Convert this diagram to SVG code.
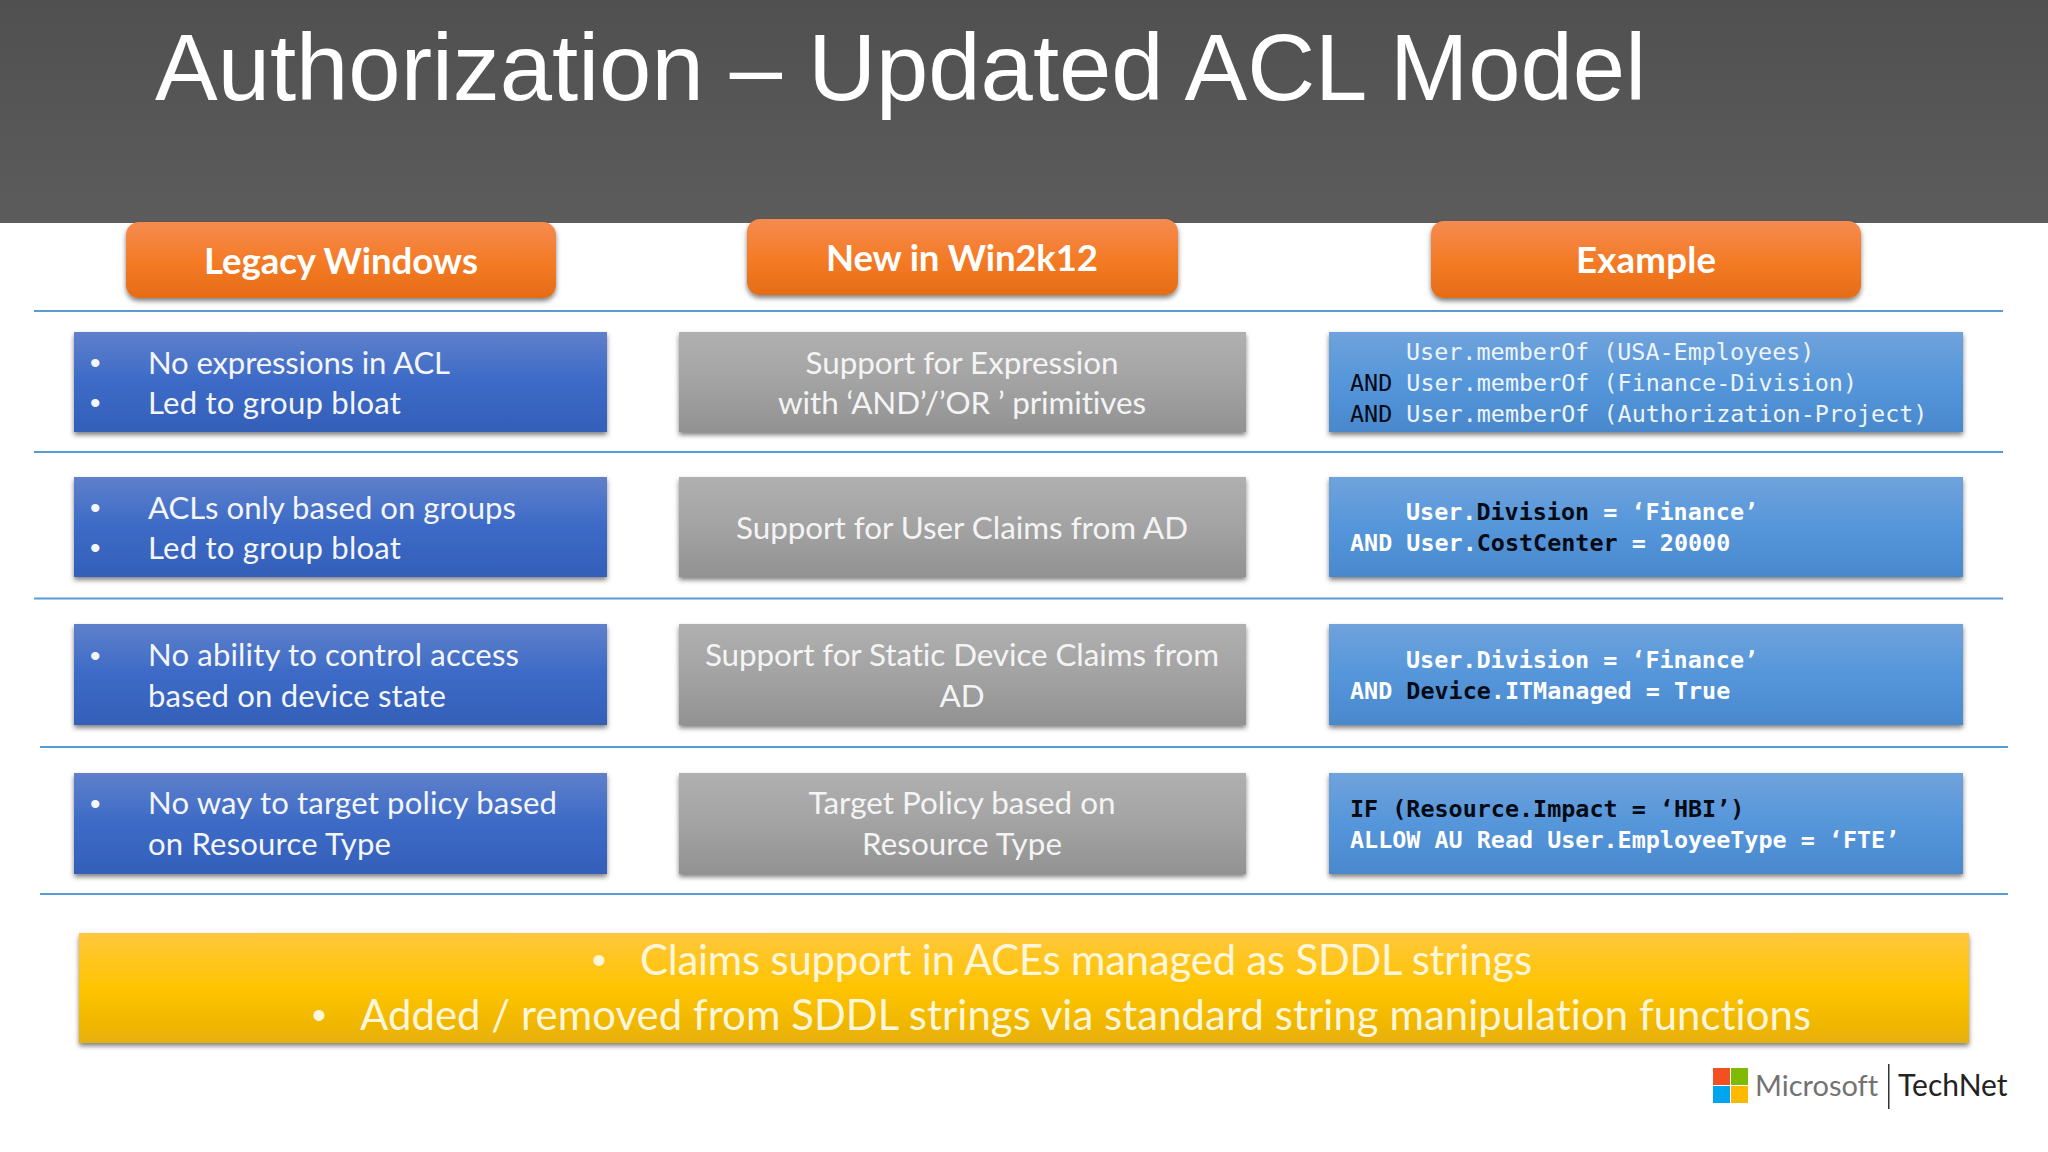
<svg xmlns="http://www.w3.org/2000/svg" width="2048" height="1152" viewBox="0 0 2048 1152">
<defs>
<linearGradient id="gHead" x1="0" y1="0" x2="0" y2="1"><stop offset="0" stop-color="#505050"/><stop offset="1" stop-color="#5c5c5c"/></linearGradient>
<linearGradient id="gOrange" x1="0" y1="0" x2="0" y2="1"><stop offset="0" stop-color="#f58b50"/><stop offset="0.55" stop-color="#f47a24"/><stop offset="1" stop-color="#e56c17"/></linearGradient>
<linearGradient id="gBlue" x1="0" y1="0" x2="0" y2="1"><stop offset="0" stop-color="#5f80cb"/><stop offset="0.5" stop-color="#3c6ac6"/><stop offset="1" stop-color="#345fb8"/></linearGradient>
<linearGradient id="gGray" x1="0" y1="0" x2="0" y2="1"><stop offset="0" stop-color="#b0b0b0"/><stop offset="0.5" stop-color="#a3a3a3"/><stop offset="1" stop-color="#929292"/></linearGradient>
<linearGradient id="gSky" x1="0" y1="0" x2="0" y2="1"><stop offset="0" stop-color="#6fa3dc"/><stop offset="0.5" stop-color="#5596da"/><stop offset="1" stop-color="#4a88cc"/></linearGradient>
<linearGradient id="gGold" x1="0" y1="0" x2="0" y2="1"><stop offset="0" stop-color="#ffc73d"/><stop offset="0.5" stop-color="#ffc400"/><stop offset="1" stop-color="#e8b008"/></linearGradient>
<filter id="sh" x="-5%" y="-10%" width="110%" height="125%"><feDropShadow dx="0" dy="3" stdDeviation="2.5" flood-color="#000" flood-opacity="0.5"/></filter>
</defs>
<style>
.orange{fill:url(#gOrange);filter:url(#sh)}
.blue{fill:url(#gBlue);filter:url(#sh)}
.gray{fill:url(#gGray);filter:url(#sh)}
.sky{fill:url(#gSky);filter:url(#sh)}
.gold{fill:url(#gGold);filter:url(#sh)}
text{font-family:Lato,"Open Sans",sans-serif;font-variant-ligatures:none}
.h{font-size:36.6px;font-weight:700;fill:#fff;text-anchor:middle}
.t{font-size:31.1px;fill:#f4f6fb}
.c{font-size:31.4px;fill:#f4f4f4;text-anchor:middle}
.p{font-family:"Liberation Sans",Arial,sans-serif;font-size:30px;fill:#f4f6fb}
.m{font-family:"DejaVu Sans Mono",monospace;font-size:23.4px;fill:#eef4fb;white-space:pre}
.b{font-weight:700;fill:#fff}
.k{fill:#050a14}
.kb{font-weight:700;fill:#050a14}
.y{font-size:41.8px;fill:#fff6dc}
.py{font-family:"Liberation Sans",Arial,sans-serif;font-size:40px;fill:#fff6dc}
.line{stroke:#5b9bd5;stroke-width:2.2;fill:none}
.ttl{font-family:"Liberation Sans",Arial,sans-serif;font-size:94px;fill:#fff}
</style>
<rect id="header-band" width="2048" height="223" fill="url(#gHead)"/>
<text id="title" class="ttl" x="155" y="100">Authorization – Updated ACL Model</text>
<g id="connectors">
<line class="line" x1="34" y1="311" x2="2003" y2="311"/>
<line class="line" x1="34" y1="452" x2="2003" y2="452"/>
<line class="line" x1="34" y1="598.500" x2="2003" y2="598.500"/>
<line class="line" x1="40" y1="747" x2="2008" y2="747"/>
<line class="line" x1="40" y1="894" x2="2008" y2="894"/>
</g>
<g id="head-legacy"><rect class="orange" x="126" y="222" width="430" height="76" rx="13"/><text class="h" x="341" y="274" textLength="274">Legacy Windows</text></g>
<g id="head-new"><rect class="orange" x="747" y="219" width="431" height="76" rx="13"/><text class="h" x="962" y="271" textLength="272">New in Win2k12</text></g>
<g id="head-example"><rect class="orange" x="1431" y="221" width="430" height="77" rx="13"/><text class="h" x="1646" y="273" textLength="140">Example</text></g>

<g id="legacy-1"><rect class="blue" x="74" y="332" width="533" height="100"/><text class="p" x="90" y="373">•</text><text class="t" x="148" y="374" textLength="302">No expressions in ACL</text><text class="p" x="90" y="413">•</text><text class="t" x="148" y="414" textLength="253">Led to group bloat</text></g>
<g id="legacy-2"><rect class="blue" x="74" y="477" width="533" height="100"/><text class="p" x="90" y="518">•</text><text class="t" x="148" y="519" textLength="368">ACLs only based on groups</text><text class="p" x="90" y="558">•</text><text class="t" x="148" y="559" textLength="253">Led to group bloat</text></g>
<g id="legacy-3"><rect class="blue" x="74" y="624" width="533" height="101"/><text class="p" x="90" y="666">•</text><text class="t" x="148" y="666" textLength="371">No ability to control access</text><text class="t" x="148" y="707" textLength="298">based on device state</text></g>
<g id="legacy-4"><rect class="blue" x="74" y="773" width="533" height="101"/><text class="p" x="90" y="814">•</text><text class="t" x="148" y="814" textLength="409">No way to target policy based</text><text class="t" x="148" y="855" textLength="243">on Resource Type</text></g>

<g id="new-1"><rect class="gray" x="679" y="332" width="567" height="100"/><text class="c" x="962" y="374" textLength="313">Support for Expression</text><text class="c" x="962" y="414" textLength="368">with ‘AND’/’OR ’ primitives</text></g>
<g id="new-2"><rect class="gray" x="679" y="477" width="567" height="100"/><text class="c" x="962" y="539" textLength="452">Support for User Claims from AD</text></g>
<g id="new-3"><rect class="gray" x="679" y="624" width="567" height="101"/><text class="c" x="962" y="666" textLength="514">Support for Static Device Claims from</text><text class="c" x="962" y="707">AD</text></g>
<g id="new-4"><rect class="gray" x="679" y="773" width="567" height="101"/><text class="c" x="962" y="814" textLength="307">Target Policy based on</text><text class="c" x="962" y="855" textLength="200">Resource Type</text></g>

<g id="example-1"><rect class="sky" x="1329" y="332" width="634" height="100"/>
<text class="m" x="1406" y="360">User.memberOf (USA-Employees)</text>
<text class="m" x="1350" y="391"><tspan class="k">AND</tspan> User.memberOf (Finance-Division)</text>
<text class="m" x="1350" y="421.500"><tspan class="k">AND</tspan> User.memberOf (Authorization-Project)</text></g>
<g id="example-2"><rect class="sky" x="1329" y="477" width="634" height="100"/>
<text class="m b" x="1406" y="520">User.<tspan class="kb">Division</tspan> = ‘Finance’</text>
<text class="m b" x="1350" y="551">AND User.<tspan class="kb">CostCenter</tspan> = 20000</text></g>
<g id="example-3"><rect class="sky" x="1329" y="624" width="634" height="101"/>
<text class="m b" x="1406" y="668">User.Division = ‘Finance’</text>
<text class="m b" x="1350" y="699">AND <tspan class="kb">Device</tspan>.ITManaged = True</text></g>
<g id="example-4"><rect class="sky" x="1329" y="773" width="634" height="101"/>
<text class="m kb" x="1350" y="817">IF (Resource.Impact = ‘HBI’)</text>
<text class="m b" x="1350" y="848">ALLOW AU Read User.EmployeeType = ‘FTE’</text></g>

<g id="summary"><rect class="gold" x="79" y="933" width="1890" height="110"/>
<text class="py" x="592" y="974">•</text><text class="y" x="640" y="975" textLength="892">Claims support in ACEs managed as SDDL strings</text>
<text class="py" x="312" y="1029">•</text><text class="y" x="360" y="1030" textLength="1451">Added / removed from SDDL strings via standard string manipulation functions</text></g>

<g id="logo">
<rect x="1713" y="1068" width="17" height="17" fill="#f25022"/><rect x="1731" y="1068" width="17" height="17" fill="#7fba00"/><rect x="1713" y="1086" width="17" height="17" fill="#00a4ef"/><rect x="1731" y="1086" width="17" height="17" fill="#ffb900"/>
<text x="1755" y="1096" font-size="29" fill="#737373">Microsoft</text>
<rect x="1888" y="1064" width="1.500" height="45" fill="#333"/>
<text x="1898" y="1096" font-size="30" fill="#222">TechNet</text>
</g>
</svg>
